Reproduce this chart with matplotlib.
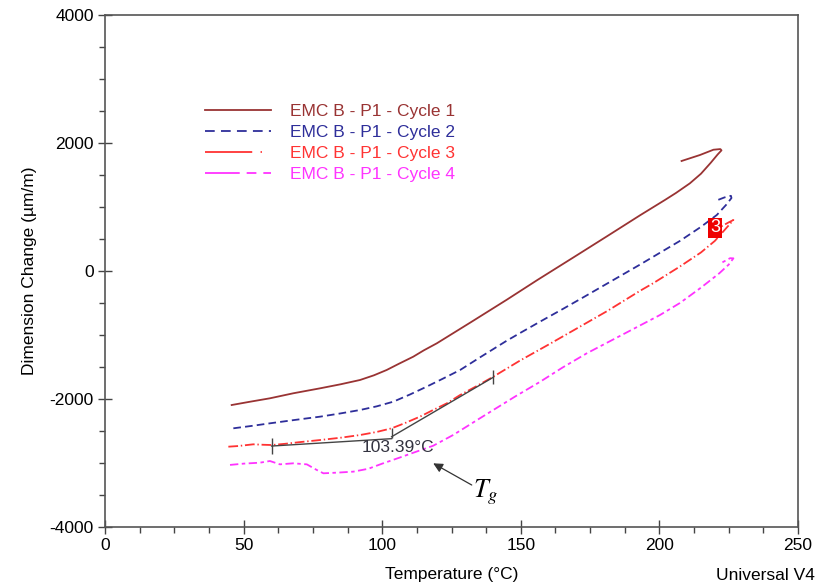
import numpy as np
import matplotlib
matplotlib.use('Agg')
import matplotlib.pyplot as plt
from matplotlib.lines import Line2D
from matplotlib.ticker import MultipleLocator

plt.rcParams['font.family'] = ['Liberation Sans', 'DejaVu Sans']
plt.rcParams['lines.scale_dashes'] = False
plt.rcParams['axes.unicode_minus'] = False

# cycle 1 (brown, solid)
c1_temp = [45.7, 52, 59.5, 68, 77.6, 85, 92.0, 97, 101.6, 106, 111.2, 115, 119.7,
           132, 144.9, 156, 168.9, 181, 193.0, 202, 206, 211.0, 215, 218.5, 221.0,
           222.4, 222.0, 219.5, 214.6, 208.0]
c1_dim = [-2094, -2045, -1989, -1910, -1833, -1770, -1703, -1630, -1547, -1450, -1339,
          -1240, -1130, -800, -450, -140, 210, 540, 870, 1110, 1220, 1370, 1520, 1690,
          1820, 1885, 1905, 1895, 1812, 1719]

# cycle 2 (blue, dashed)
c2_temp = [46.3, 53, 59.5, 68, 77.6, 85, 92, 98, 104, 110, 116, 122, 128.1, 136,
           144.9, 149.7, 157, 165.3, 173, 182.2, 193, 207.4, 215, 220.7, 224, 226,
           225.8, 223.5, 220.5]
c2_dim = [-2458, -2420, -2380, -2330, -2276, -2225, -2172, -2115, -2042, -1930, -1808,
          -1680, -1547, -1330, -1090, -970, -790, -590, -400, -170, 100, 470, 690, 875,
          1030, 1140, 1175, 1150, 1100]

# cycle 3 (red, dash-dot)
c3_temp = [44.5, 48, 53.5, 57, 60.1, 65, 70, 77.6, 85, 92, 98, 103.4, 108, 113.6, 118,
           123.3, 128.1, 134, 140.1, 149.7, 160, 168.9, 181, 193, 197.8, 207.4, 215,
           220, 223.5, 226.7, 225, 222.5]
c3_dim = [-2745, -2735, -2708, -2715, -2719, -2700, -2675, -2641, -2605, -2563, -2515,
          -2458, -2380, -2276, -2180, -2068, -1938, -1800, -1651, -1400, -1150, -930,
          -630, -310, -190, 70, 290, 470, 640, 797, 760, 700]

# cycle 4 (magenta, dash-dash)
c4_temp = [45.1, 50, 55.9, 59.5, 63.1, 67.9, 72.8, 76.4, 78.8, 84, 89.6, 95, 100,
           106, 111.2, 118.4, 125.7, 135.3, 148, 157, 165, 173.8, 188.2, 200.2, 207.4,
           215, 221.6, 225, 226.7, 225.5, 222.5]
c4_dim = [-3030, -3010, -2995, -2969, -3021, -3005, -3021, -3109, -3161, -3150, -3135,
          -3090, -3010, -2920, -2840, -2730, -2560, -2300, -1960, -1730, -1510, -1286,
          -960, -688, -500, -260, -36, 100, 198, 200, 130]

labels = ['EMC B - P1 - Cycle 1', 'EMC B - P1 - Cycle 2',
          'EMC B - P1 - Cycle 3', 'EMC B - P1 - Cycle 4']
colors = ['#993333', '#2e2e9a', '#ff3333', '#ff33ff']
plot_styles = ['-', (0, (5.5, 3)), (0, (7, 2, 1, 2)), (0, (6, 2.5, 2.5, 2.5))]
legend_styles = ['-', (0, (7, 4.5)), (0, (34, 6, 1, 20)), (0, (25, 5, 7, 5, 7, 20))]

# Tg construction (tangent lines on cycle 3)
tg_value = 103.39
tan1_temp = [60.1, 103.39]
tan1_dim = [-2735, -2620]
tan2_temp = [103.39, 140.1]
tan2_dim = [-2590, -1660]

fig = plt.figure(figsize=(8.18, 5.88), dpi=100)
ax = fig.add_axes([105 / 818, 1 - 527 / 588, 693 / 818, 512 / 588])

series = [(c1_temp, c1_dim), (c2_temp, c2_dim), (c3_temp, c3_dim), (c4_temp, c4_dim)]
for (t, d), c, ls in zip(series, colors, plot_styles):
    ax.plot(t, d, color=c, lw=1.3, ls=ls)

# tangent lines and their end marks
ax.plot(tan1_temp, tan1_dim, color='#444444', lw=1)
ax.plot(tan2_temp, tan2_dim, color='#444444', lw=1)
ax.plot([tan1_temp[0]], [-2730], marker='|', color='#444444', ms=11, mew=1)
ax.plot([tg_value], [-2528], marker='|', color='#444444', ms=7, mew=1)
ax.plot([tan2_temp[1]], [-1660], marker='|', color='#444444', ms=10, mew=1)
ax.text(105.5, -2758, f'{tg_value:.2f}°C', color='#333340', fontsize=12.5,
        ha='center', va='center')

# Tg pointer
ax.annotate('', xy=(118.4, -3005), xytext=(132.3, -3344),
            arrowprops=dict(arrowstyle='-|>', color='#333333', lw=0.9,
                            mutation_scale=14, shrinkA=0, shrinkB=0))
ax.text(137.3, -3460, '$T_g$', fontsize=19, ha='center', va='center',
        math_fontfamily='stix')

# cycle marker
ax.text(220.1, 672, '3', color='white', fontsize=13, ha='center', va='center',
        bbox=dict(boxstyle='square,pad=0.1', fc='#ee0000', ec='none'))

ax.set_xlim(0, 250)
ax.set_ylim(-4000, 4000)
ax.xaxis.set_major_locator(MultipleLocator(50))
ax.xaxis.set_minor_locator(MultipleLocator(12.5))
ax.yaxis.set_major_locator(MultipleLocator(2000))
ax.yaxis.set_minor_locator(MultipleLocator(500))
ax.tick_params(which='major', direction='inout', length=10, width=1, color='#444444',
               labelsize=12.5, pad=3)
ax.tick_params(which='minor', direction='out', length=4, width=1, color='#444444')
for s in ax.spines.values():
    s.set_color('#555555')
    s.set_linewidth(1.2)

ax.set_ylabel('Dimension Change (µm/m)', fontsize=12.5)
ax.yaxis.set_label_coords(-0.098, 0.5)
fig.text(452 / 818, 1 - 575 / 588, 'Temperature (°C)', fontsize=12.5,
         ha='center', va='center')
fig.text(815 / 818, 1 - 575 / 588, 'Universal V4', fontsize=12.5,
         ha='right', va='center')

handles = [Line2D([], [], color=c, lw=1.3, ls=ls) for c, ls in zip(colors, legend_styles)]
ax.legend(handles, labels, loc='upper left', bbox_to_anchor=(205 / 818, 1 - 104 / 588),
          bbox_transform=fig.transFigure, frameon=False, fontsize=12.5,
          handlelength=3.8, handletextpad=1.1, labelspacing=0.34,
          borderpad=0, borderaxespad=0, labelcolor=colors)

fig.savefig('out.png', dpi=100)
